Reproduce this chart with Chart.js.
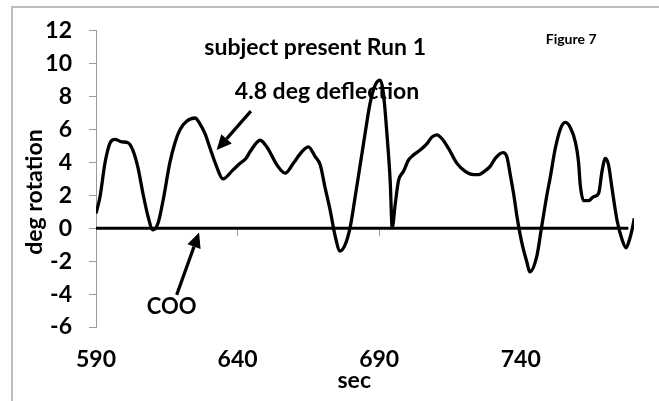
<!DOCTYPE html>
<html>
<head>
<meta charset="utf-8">
<script src="https://cdn.jsdelivr.net/npm/chart.js@4.4.1/dist/chart.umd.min.js"></script>
<style>
  html, body { margin: 0; padding: 0; background: #fff; }
  #wrap { position: relative; width: 659px; height: 401px; overflow: hidden; }
  #frame { position: absolute; left: 11px; top: 6px; width: 700px; height: 500px;
           border-left: 2px solid #bdbdbd; border-top: 2px solid #bdbdbd; }
  canvas { position: absolute; left: 0; top: 0; }
</style>
</head>
<body>
<div id="wrap">
  <div id="frame"></div>
  <canvas id="c" width="659" height="401"></canvas>
</div>
<script>
// ---- data ----
const seconds = [
  590, 591.4, 593.2, 595, 596.7, 599.1, 601.3, 603, 604.8, 606.6, 608.4, 610.1, 611.9, 613.7,
  616.1, 617.9, 619.7, 622, 625, 626.7, 628.5, 630.3, 632.6, 634.8, 638.4, 640.9, 643, 644.4,
  648, 650.3, 653.9, 656.8, 659.7, 662.7, 665, 667.4, 669.2, 670.9, 672.7, 674.5, 676.2, 678,
  679.8, 681.5, 683.3, 685.1, 686.8, 688.6, 690.4, 691.5, 692.7, 693.9, 694.6, 695.7, 696.8,
  698.6, 700.4, 702.1, 704.5, 706.9, 708.6, 710.4, 712.2, 714.5, 717.4, 720.4, 723.3, 725.1,
  727.5, 729.2, 731, 733.7, 735.1, 736.3, 737.5, 738.7, 740.4, 742.2, 743.2, 745.7, 747.3,
  749.3, 750.4, 752.2, 754, 755.7, 757.5, 759.3, 760.4, 761, 762.2, 764, 765.7, 767.5, 768.7,
  769.9, 771, 772.2, 774, 775.8, 777.2, 778.4, 779.3, 780.1
];
const degRotation = [
  0.9, 1.9, 4.0, 5.2, 5.4, 5.25, 5.2, 4.75, 3.7, 2.1, 0.7, -0.1, 0.3, 1.7,
  4.0, 5.2, 6.0, 6.5, 6.7, 6.35, 5.75, 4.85, 3.75, 3.0, 3.55, 3.95, 4.25, 4.65,
  5.35, 4.95, 3.85, 3.35, 3.95, 4.65, 4.95, 4.35, 3.85, 2.47, 1.09, -0.5, -1.38, -1.0,
  0.1, 1.88, 3.86, 5.83, 7.6, 8.7, 9.0, 8.2, 5.83, 2.87, 0.05, 1.5, 2.87,
  3.46, 4.15, 4.45, 4.75, 5.14, 5.54, 5.68, 5.44, 4.85, 3.96, 3.46, 3.26, 3.26,
  3.5, 3.76, 4.25, 4.6, 4.35, 3.26, 2.08, 0.69, -0.89, -2.08, -2.65, -1.68, 0.0,
  2.08, 3.07, 4.85, 6.03, 6.43, 6.13, 5.24, 4.05, 2.67, 1.68, 1.68, 1.92, 2.12, 3.46,
  4.25, 3.86, 2.47, 0.49, -0.69, -1.19, -0.69, -0.1, 0.6
];
const cooSeconds = [590, 778];
const cooValues = [0, 0];

const xMin = 590, xMax = 780;
const xTickValues = [590, 640, 690, 740];
const yMin = -6, yMax = 12, yStep = 2;

const chartTitle = 'subject present Run 1';
const figureLabel = 'Figure 7';
const deflectionLabel = '4.8 deg deflection';
const cooLabel = 'COO';
const xTitle = 'sec';
const yTitle = 'deg rotation';

// annotation placement (in data units)
const textNotes = [
  { text: chartTitle,      x: 667.4, y: 11.0,  size: 23 },
  { text: deflectionLabel, x: 671.6, y: 8.3,   size: 23 },
  { text: cooLabel,        x: 616.7, y: -4.8,  size: 22 },
  { text: figureLabel,     x: 757.8, y: 11.5,  size: 14 }
];
const arrowNotes = [
  { from: [644.7, 7.12], to: [632.6, 4.75] },
  { from: [618.5, -4.05], to: [626.4, -0.26] }
];
// axis-title placement: along-axis value, and offset from the axis box edge (px)
const yTitlePlace = { value: 2.2, fromLeft: 35 };
const xTitlePlace = { value: 681.2, fromBottom: 20 };

const FONT = 'Lato, "Open Sans", sans-serif';

const notesPlugin = {
  id: 'notes',
  afterDatasetsDraw(chart) {
    const ctx = chart.ctx, xs = chart.scales.x, ys = chart.scales.y;
    ctx.save();
    ctx.fillStyle = '#000';
    ctx.strokeStyle = '#000';
    ctx.textAlign = 'center';
    ctx.textBaseline = 'middle';
    textNotes.forEach(n => {
      ctx.font = 'bold ' + n.size + 'px ' + FONT;
      ctx.fillText(n.text, xs.getPixelForValue(n.x), ys.getPixelForValue(n.y));
    });
    // axis titles
    ctx.font = 'bold 23px ' + FONT;
    ctx.fillText(xTitle, xs.getPixelForValue(xTitlePlace.value), xs.bottom - xTitlePlace.fromBottom);
    ctx.save();
    ctx.translate(ys.left + yTitlePlace.fromLeft, ys.getPixelForValue(yTitlePlace.value));
    ctx.rotate(-Math.PI / 2);
    ctx.fillText(yTitle, 0, 0);
    ctx.restore();
    arrowNotes.forEach(a => {
      const x1 = xs.getPixelForValue(a.from[0]), y1 = ys.getPixelForValue(a.from[1]);
      const x2 = xs.getPixelForValue(a.to[0]),   y2 = ys.getPixelForValue(a.to[1]);
      const ang = Math.atan2(y2 - y1, x2 - x1);
      const head = 15, half = 7;
      const bx = x2 - head * Math.cos(ang), by = y2 - head * Math.sin(ang);
      ctx.lineWidth = 3.2;
      ctx.beginPath(); ctx.moveTo(x1, y1); ctx.lineTo(bx, by); ctx.stroke();
      ctx.beginPath();
      ctx.moveTo(x2, y2);
      ctx.lineTo(bx + half * Math.sin(ang), by - half * Math.cos(ang));
      ctx.lineTo(bx - half * Math.sin(ang), by + half * Math.cos(ang));
      ctx.closePath(); ctx.fill();
    });
    ctx.restore();
  }
};

const tickFont = { family: FONT, size: 23, weight: 'bold' };
const setXTicks = s => { s.ticks = xTickValues.map(v => ({ value: v })); };

new Chart(document.getElementById('c'), {
  type: 'line',
  data: {
    datasets: [
      {
        label: 'deg rotation',
        data: seconds.map((s, i) => ({ x: s, y: degRotation[i] })),
        borderColor: '#000',
        borderWidth: 3.3,
        pointRadius: 0,
        cubicInterpolationMode: 'monotone',
        fill: false
      },
      {
        label: 'COO',
        data: cooSeconds.map((s, i) => ({ x: s, y: cooValues[i] })),
        borderColor: '#000',
        borderWidth: 3,
        pointRadius: 0,
        fill: false
      }
    ]
  },
  options: {
    responsive: false,
    animation: false,
    layout: { padding: { top: 24, right: 25, left: 0, bottom: 0 } },
    plugins: { legend: { display: false }, tooltip: { enabled: false }, title: { display: false } },
    scales: {
      x: {
        type: 'linear', position: 'bottom', min: xMin, max: xMax,
        afterBuildTicks: setXTicks,
        ticks: { font: tickFont, color: '#000', padding: 19, maxRotation: 0 },
        grid: { display: false, drawTicks: false },
        border: { display: false },
        title: { display: false },
        afterFit(s) { s.height = 74; }
      },
      x2: {
        type: 'linear', position: { y: 0 }, min: xMin, max: xMax,
        afterBuildTicks: setXTicks,
        ticks: { display: false },
        grid: { drawOnChartArea: false, drawTicks: true, tickLength: 8, color: '#9a9a9a' },
        border: { display: false }
      },
      y: {
        type: 'linear', position: 'left', min: yMin, max: yMax,
        ticks: { stepSize: yStep, font: tickFont, color: '#000', padding: 17 },
        grid: { drawOnChartArea: false, drawTicks: true, tickLength: 7, color: '#9a9a9a' },
        border: { display: true, color: '#9a9a9a', width: 1 },
        title: { display: false },
        afterFit(s) { s.width = 96; }
      }
    }
  },
  plugins: [notesPlugin]
});
</script>
</body>
</html>
